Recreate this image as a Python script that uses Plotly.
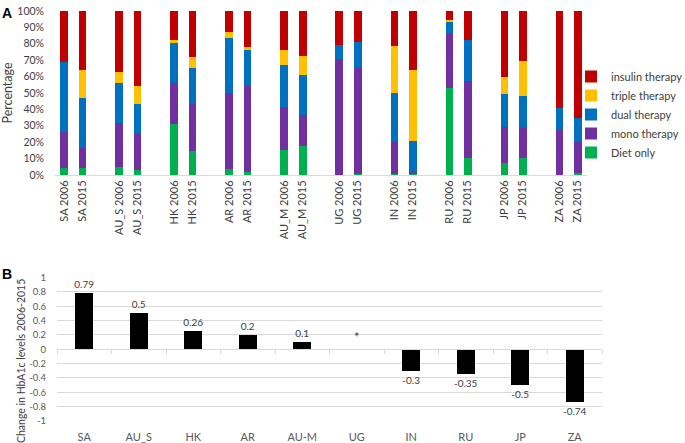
import plotly.graph_objects as go

# ---------------- data ----------------
groups = ["SA", "AU_S", "HK", "AR", "AU_M", "UG", "IN", "RU", "JP", "ZA"]
years = ["2006", "2015"]

diet_only = [4.5, 4, 5, 3, 31, 14.5, 3.5, 2, 15, 17.5, 0, 0.5, 0.5, 1, 53, 10.5, 7.5, 10.5, 0, 1]
mono_therapy = [22, 12.5, 27, 22.5, 25, 29, 46.5, 52, 26.5, 19, 70.5, 65, 20.5, 1, 33, 47, 21.5, 18.5, 27.5, 19]
dual_therapy = [42.5, 30.5, 24, 17.5, 24.5, 21.5, 33.5, 22.5, 25.5, 24.5, 8.5, 15.5, 29, 18.5, 7.5, 25, 20.5, 19, 13.5, 14.5]
triple_therapy = [0, 17, 7, 11, 2, 7, 3.5, 1.5, 9, 11.5, 0, 0, 28.5, 43.5, 1, 0, 10, 21.5, 0, 0]
insulin_therapy = [31, 36, 37, 46, 17.5, 28, 13, 22, 24, 27.5, 21, 19, 21.5, 36, 5.5, 17.5, 40.5, 30.5, 59, 65.5]

pct_ticks = list(range(0, 101, 10))
pct_labels = [f"{v}%" for v in pct_ticks]

b_countries = ["SA", "AU_S", "HK", "AR", "AU-M", "UG", "IN", "RU", "JP", "ZA"]
hba1c_change = [0.79, 0.5, 0.26, 0.2, 0.1, None, -0.3, -0.35, -0.5, -0.74]
hba1c_labels = ["0.79", "0.5", "0.26", "0.2", "0.1", "", "-0.3", "-0.35", "-0.5", "-0.74"]
b_ticks = [1, 0.8, 0.6, 0.4, 0.2, 0, -0.2, -0.4, -0.6, -0.8, -1]
b_tick_labels = ["1", "0.8", "0.6", "0.4", "0.2", "0", "-0.2", "-0.4", "-0.6", "-0.8", "-1"]

# ---------------- layout helpers ----------------
W, H = 685, 443
FONT = "Lato"
TXT = "#404040"
TXT_B = "#595959"

def py(px):  # pixel from top -> paper y
    return 1 - px / H

def pxx(px):
    return px / W

# positions: each group takes 3 slots (2 bars + 1 spacer)
xpos = []
xlabels = []
for g, name in enumerate(groups):
    for k, yr in enumerate(years):
        xpos.append(g * 3 + k)
        xlabels.append(f"{name} {yr}")

series = [
    ("Diet only", diet_only, "#00B050"),
    ("mono therapy", mono_therapy, "#7030A0"),
    ("dual therapy", dual_therapy, "#0070C0"),
    ("triple therapy", triple_therapy, "#FFC000"),
    ("insulin therapy", insulin_therapy, "#C00000"),
]

fig = go.Figure()
for name, vals, col in series:
    fig.add_trace(go.Bar(
        x=xpos, y=vals, name=name, marker_color=col, marker_line_width=0,
        width=0.42, xaxis="x", yaxis="y",
    ))

fig.add_trace(go.Bar(
    x=b_countries, y=hba1c_change, text=hba1c_labels, textposition="outside",
    constraintext="none",
    textfont=dict(size=10, color=TXT, family=FONT), cliponaxis=False,
    marker_color="black", marker_line_width=0, width=0.33,
    xaxis="x2", yaxis="y2", showlegend=False,
))
# invisible helper trace for the zero-line axis (category boundaries ticks)
fig.add_trace(go.Scatter(
    x=b_countries, y=[0] * len(b_countries), mode="markers",
    marker=dict(opacity=0), xaxis="x3", yaxis="y2", showlegend=False, hoverinfo="skip",
))

a_dom_y = [py(175), py(11)]
b_dom_y = [py(421), py(277.5)]
zero_pos = b_dom_y[0] + 0.5 * (b_dom_y[1] - b_dom_y[0])

fig.update_layout(
    width=W, height=H,
    margin=dict(l=0, r=0, t=0, b=0, autoexpand=False),
    paper_bgcolor="white", plot_bgcolor="white",
    barmode="stack",
    font=dict(family=FONT, size=10, color=TXT),
    showlegend=True,
    legend=dict(
        x=pxx(571), y=py(62), xanchor="left", yanchor="top",
        traceorder="reversed",
        font=dict(size=11, color=TXT, family=FONT),
        itemwidth=30, bgcolor="rgba(0,0,0,0)",
    ),
    xaxis=dict(
        domain=[pxx(55), pxx(587)], anchor="y", automargin=False,
        range=[-0.5, len(groups) * 3 - 1.5],
        tickmode="array", tickvals=xpos, ticktext=xlabels, tickangle=-90,
        tickfont=dict(size=11, color=TXT, family=FONT),
        showline=True, linecolor="#D9D9D9", linewidth=1,
        showgrid=False, ticks="", zeroline=False,
    ),
    yaxis=dict(
        domain=a_dom_y, anchor="x", range=[0, 100], automargin=False,
        tickmode="array", tickvals=pct_ticks, ticktext=pct_labels,
        tickfont=dict(size=10.5, color=TXT, family=FONT),
        showgrid=False, zeroline=False, showline=False, ticks="",
        ticklabelstandoff=10,
        title=dict(text="Percentage", font=dict(size=12.5, color=TXT, family=FONT), standoff=8),
    ),
    xaxis2=dict(
        domain=[pxx(57), pxx(602)], anchor="y2", automargin=False,
        type="category", categoryorder="array", categoryarray=b_countries,
        range=[-0.5, 9.5],
        tickfont=dict(size=11, color=TXT_B, family=FONT),
        showline=False, showgrid=False, zeroline=False,
        ticks="outside", ticklen=6, tickcolor="rgba(0,0,0,0)",
    ),
    xaxis3=dict(
        domain=[pxx(57), pxx(602)], anchor="free", position=zero_pos, automargin=False,
        overlaying="x2", type="category", categoryorder="array", categoryarray=b_countries,
        range=[-0.5, 9.5], tickson="boundaries",
        ticks="outside", ticklen=4, tickcolor="#D9D9D9",
        showticklabels=False, showline=True, linecolor="#D9D9D9", linewidth=1,
        showgrid=False, zeroline=False,
    ),
    yaxis2=dict(
        domain=b_dom_y, anchor="x2", range=[-1, 1], automargin=False,
        tickmode="array", tickvals=b_ticks, ticktext=b_tick_labels,
        tickfont=dict(size=9.5, color=TXT_B, family=FONT),
        showgrid=True, gridcolor="#D9D9D9", gridwidth=1,
        zeroline=False, showline=False, ticks="",
        ticklabelstandoff=10,
    ),
    annotations=[
        dict(text="<b>A</b>", x=0.0, y=py(3), xref="paper", yref="paper",
             xanchor="left", yanchor="top", showarrow=False,
             font=dict(family="Liberation Sans", size=14, color="black")),
        dict(text="<b>B</b>", x=0.0, y=py(264), xref="paper", yref="paper",
             xanchor="left", yanchor="top", showarrow=False,
             font=dict(family="Liberation Sans", size=14, color="black")),
        dict(text="Change in HbA1c levels 2006-2015", textangle=-90,
             x=pxx(21), y=py(361), xref="paper", yref="paper",
             xanchor="center", yanchor="middle", showarrow=False,
             font=dict(size=10.5, color=TXT, family=FONT)),
        dict(text="*", x="UG", y=0.17, xref="x2", yref="y2",
             showarrow=False, font=dict(size=13, color=TXT, family=FONT)),
    ],
)

fig.write_html("out.html", config={"displayModeBar": False},
               post_script="document.body.style.margin='0';document.body.style.overflow='hidden';")
